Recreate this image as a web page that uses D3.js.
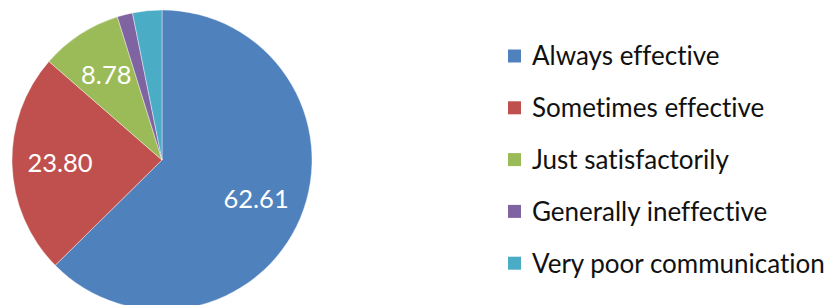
<!DOCTYPE html>
<html>
<head>
<meta charset="utf-8">
<script src="https://cdn.jsdelivr.net/npm/d3@7"></script>
<style>
  body { margin: 0; background: #fff; }
  svg { display: block; font-family: Lato, 'Open Sans', sans-serif; font-variant-ligatures: none; }
  .slice-label { fill: #fff; font-size: 25.5px; }
  .legend-label { fill: #111; font-size: 26px; }
</style>
</head>
<body>
<div id="chart"></div>
<script>
// data
const categories = [
  'Always effective',
  'Sometimes effective',
  'Just satisfactorily',
  'Generally ineffective',
  'Very poor communication',
];
const values = [62.61, 23.80, 8.78, 1.66, 3.15];
const valueLabels = ['62.61', '23.80', '8.78', '', ''];
const colors = ['#4F81BD', '#C0504D', '#9BBB59', '#8064A2', '#4BACC6'];

// dimensions
const WIDTH = 838;
const HEIGHT = 305;
const CX = 162;
const CY = 160;
const RADIUS = 150;
const LEGEND_X = 508;
const LEGEND_Y = 56;
const LEGEND_STEP = 51.8;
const SWATCH = 13;

const rows = categories.map((c, i) => ({
  name: c, value: values[i], label: valueLabels[i], color: colors[i],
}));

const $svg = d3.select('#chart').append('svg')
  .attr('width', WIDTH)
  .attr('height', HEIGHT);

const pie = d3.pie().sort(null).value((d) => d.value);
const arc = d3.arc().innerRadius(0).outerRadius(RADIUS);
const labelArc = d3.arc().innerRadius(RADIUS * 0.68).outerRadius(RADIUS * 0.68);

const $pie = $svg.append('g').attr('transform', `translate(${CX}, ${CY})`);

$pie.selectAll('.slice')
  .data(pie(rows))
  .join('path')
  .attr('class', 'slice')
  .attr('d', arc)
  .attr('fill', (d) => d.data.color)
  .attr('stroke', '#fff')
  .attr('stroke-width', 0.4);

$pie.selectAll('.slice-label')
  .data(pie(rows).filter((d) => d.data.label))
  .join('text')
  .attr('class', 'slice-label')
  .attr('transform', (d) => `translate(${labelArc.centroid(d)})`)
  .attr('text-anchor', 'middle')
  .attr('dy', '0.35em')
  .text((d) => d.data.label);

// legend
const $legend = $svg.append('g')
  .attr('transform', `translate(${LEGEND_X}, ${LEGEND_Y})`);

const $item = $legend.selectAll('.legend-item')
  .data(rows)
  .join('g')
  .attr('class', 'legend-item')
  .attr('transform', (d, i) => `translate(0, ${i * LEGEND_STEP})`);

$item.append('rect')
  .attr('x', 0)
  .attr('y', -SWATCH / 2)
  .attr('width', SWATCH)
  .attr('height', SWATCH)
  .attr('fill', (d) => d.color);

$item.append('text')
  .attr('class', 'legend-label')
  .attr('x', 24)
  .attr('dy', '0.36em')
  .text((d) => d.name);
</script>
</body>
</html>
